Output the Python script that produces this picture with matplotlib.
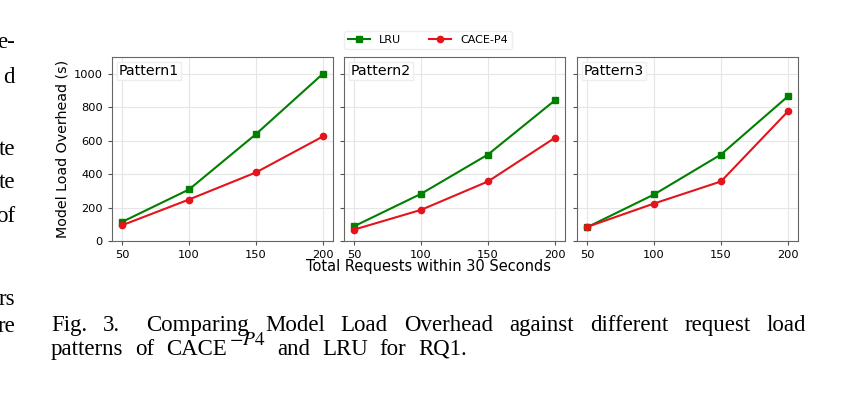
import matplotlib
matplotlib.use("Agg")
import matplotlib.pyplot as plt

plt.rcParams['mathtext.fontset'] = 'stix'

# Request loads (x) and overhead in seconds per pattern
requests = [50, 100, 150, 200]
patterns = ["Pattern1", "Pattern2", "Pattern3"]

lru_p1 = [114, 308, 639, 1000]
cace_p1 = [94, 248, 410, 625]
lru_p2 = [88, 282, 517, 841]
cace_p2 = [68, 186, 356, 617]
lru_p3 = [82, 278, 517, 865]
cace_p3 = [84, 224, 356, 775]

lru_all = [lru_p1, lru_p2, lru_p3]
cace_all = [cace_p1, cace_p2, cace_p3]

yticks = [0, 200, 400, 600, 800, 1000]

W, H = 858, 397
fig = plt.figure(figsize=(W / 100, H / 100), dpi=100)

lefts = [112 / W, 344 / W, 577 / W]
axes = []
for i, left in enumerate(lefts):
    ax = fig.add_axes([left, 156 / H, 221 / W, 184 / H],
                      sharey=axes[0] if axes else None)
    axes.append(ax)
    ax.plot(requests, lru_all[i], marker='s', ms=5, color='green', lw=1.5, label='LRU')
    ax.plot(requests, cace_all[i], marker='o', ms=4.5, color='#e3141c', lw=1.5, label='CACE-P4')
    ax.set_xticks(requests)
    ax.set_yticks(yticks)
    ax.set_ylim(0, 1100)
    ax.grid(True, color='#e6e6e6', lw=0.8)
    ax.tick_params(labelsize=8.2, length=3, color='#555555')
    for sp in ax.spines.values():
        sp.set_color('#666666')
    ax.text(0.03, 0.96, patterns[i], transform=ax.transAxes, fontsize=10.2,
            va='top', ha='left',
            bbox=dict(facecolor='white', edgecolor='#eeeeee', pad=1.5))
    if i > 0:
        ax.tick_params(labelleft=False)

axes[0].set_ylabel('Model Load Overhead (s)', fontsize=10.3, labelpad=3)
fig.text(428 / W, 1 - 266 / H, 'Total Requests within 30 Seconds',
         ha='center', va='center', fontsize=10.5)

handles, labels = axes[0].get_legend_handles_labels()
fig.legend(handles, labels, loc='center', bbox_to_anchor=(428 / W, 1 - 40 / H),
           ncol=2, fontsize=8, frameon=True, edgecolor='#eeeeee', framealpha=1,
           handlelength=2, columnspacing=2.5, borderpad=0.4)

# Caption (first line justified) and clipped text of the neighbouring column
serif = 'Liberation Serif'
cap_size = 16.5
renderer = fig.canvas.get_renderer()


def put(s, x, y, size=cap_size):
    t = fig.text(x / W, 1 - y / H, s, fontsize=size, family=serif,
                 va='baseline', ha='left')
    return t, t.get_window_extent(renderer).width


line1 = ['Fig.', '3.', 'Comparing', 'Model', 'Load', 'Overhead', 'against',
         'different', 'request', 'load']
placed = [put(w, 0, 331) for w in line1]
x0, x1 = 51.0, 806.0
extra = 0.6
gap = (x1 - x0 - sum(w for _, w in placed)) / (len(line1) - 1 + extra)
x = x0
for (t, w), word in zip(placed, line1):
    t.set_x(x / W)
    x += w + gap
    if word == '3.':
        x += gap * extra

# second line: spread evenly up to the reference's right end,
# superscript sits low and right after "CACE"
line2 = ['patterns', 'of', 'CACE', r'$-P4$', 'and', 'LRU', 'for', 'RQ1.']
sup_size, sup_base = 14, 345
placed2 = []
for w in line2:
    if w.startswith('$'):
        placed2.append(put(w, 0, sup_base, sup_size))
    else:
        placed2.append(put(w, 0, 355))
sup_gap = 2.0
n_gaps = len(line2) - 2
gap2 = (467.0 - 51.0 - sum(w for _, w in placed2) - sup_gap) / n_gaps
x = 51.0
for (t, w), word in zip(placed2, line2):
    t.set_x(x / W)
    x += w + (sup_gap if word == 'CACE' else gap2)

margin_words = [('e-', 48), ('d', 83), ('te', 155), ('te', 188), ('of', 222),
                ('rs', 305), ('re', 332)]
for w, y in margin_words:
    fig.text(15 / W, 1 - y / H, w, fontsize=16.5, family=serif,
             va='baseline', ha='right')

fig.savefig('out.png', dpi=100)
